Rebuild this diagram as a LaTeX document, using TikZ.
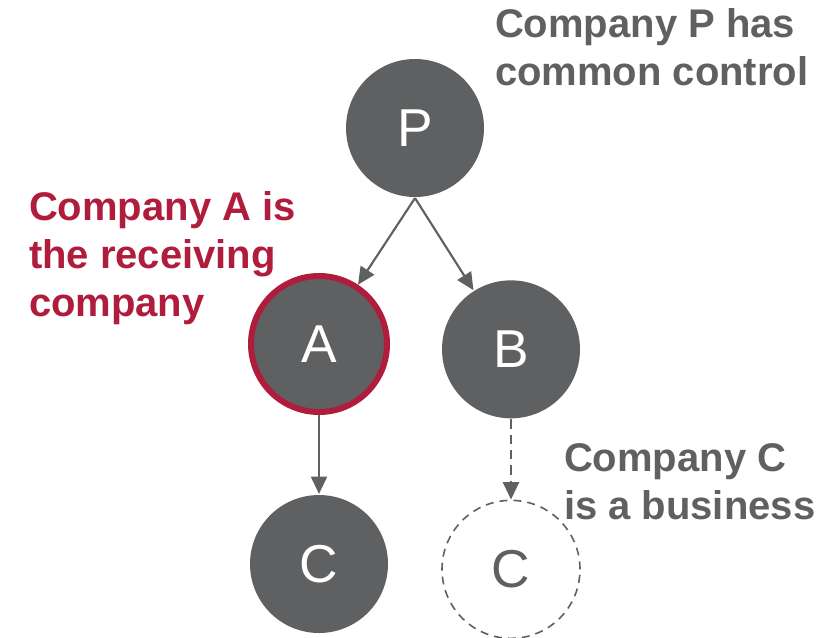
\documentclass[tikz,border=0pt]{standalone}
\usepackage{fontspec}
\setmainfont{Liberation Sans}
\usepackage{tikz}
\usetikzlibrary{arrows.meta,positioning}
\definecolor{cgrey}{RGB}{95,96,98}
\definecolor{cred}{RGB}{176,28,60}

\begin{document}
\begin{tikzpicture}[x=0.75pt,y=-0.75pt,->,>={Triangle[length=13pt,width=12pt]},line width=1.6pt,color=cgrey,on grid]
\tikzstyle{company}=[circle,fill=cgrey,draw=none,text=white,minimum size=103.5pt,inner sep=0pt,font=\fontsize{40}{48}\selectfont]
\tikzstyle{receiver}=[company,draw=cred,line width=4.5pt,minimum size=102pt]
\tikzstyle{maybe}=[company,fill=none,draw=cgrey,text=cgrey,line width=1.2pt,dash pattern=on 6pt off 4.5pt]
\tikzstyle{note}=[anchor=base west,inner sep=0pt,align=left,text=cgrey,font=\fontsize{30}{36}\selectfont\bfseries]

\useasboundingbox (0,0) rectangle (839,637);

\node[company]  (P)                                   at (415,128) {P};
\node[receiver] (A)  [below left=162pt and 72pt of P]  {A};
\node[company]  (B)  [below right=166pt and 72pt of P] {B};
\node[company]  (C1) [below=165pt of A]                {C};
\node[maybe]    (C2) [below=165pt of B]                {C};

% base anchor sits on the last line
\node[note]            (noteP) at (494,85)  {Company P has\\common control};
\node[note,text=cred]  (noteA) at (28,316)  {Company A is\\the receiving\\company};
\node[note]            (noteC) at (563,519) {Company C\\is a business};

\path (P.south) edge (A)
      (P.south) edge (B)
      (A)       edge (C1)
      (B)       edge[dash pattern=on 7pt off 4.5pt] (C2);
\end{tikzpicture}
\end{document}
